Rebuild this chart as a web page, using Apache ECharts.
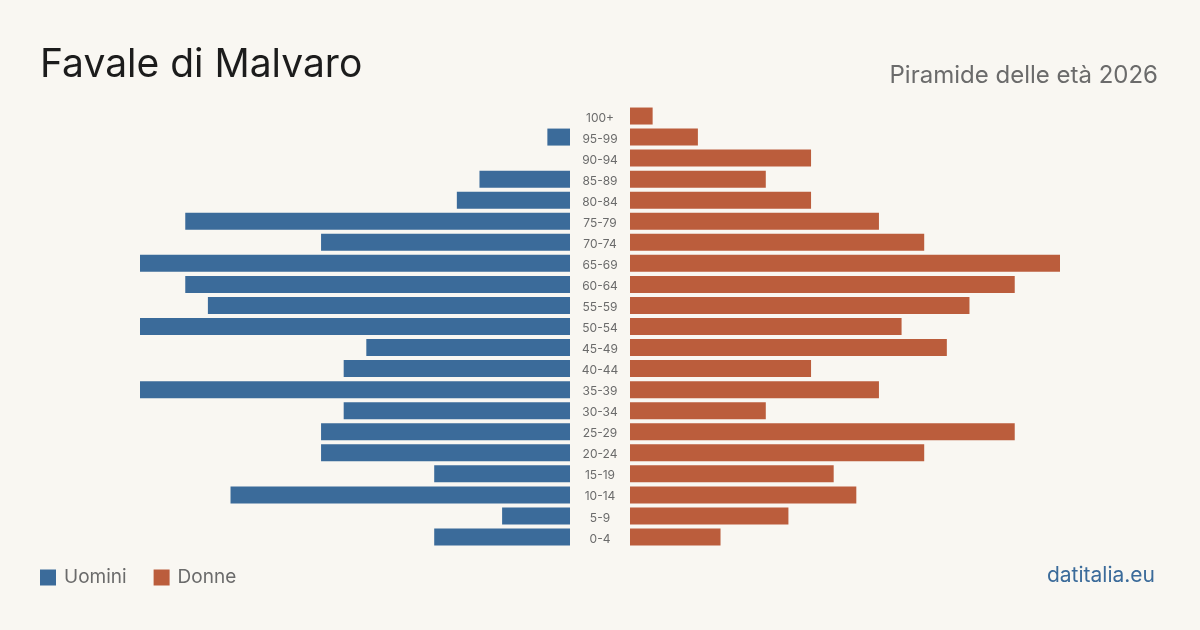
<!DOCTYPE html>
<html>
<head>
<meta charset="utf-8">
<script src="https://cdn.jsdelivr.net/npm/echarts@6/dist/echarts.min.js"></script>
<style>
html,body{margin:0;padding:0;background:#f9f7f2;}
#c{width:1200px;height:630px;}
</style>
</head>
<body>
<div id="c"></div>
<script>
const categories = ['100+','95-99','90-94','85-89','80-84','75-79','70-74','65-69','60-64','55-59','50-54','45-49','40-44','35-39','30-34','25-29','20-24','15-19','10-14','5-9','0-4'];
const uomini = [0,1,0,4,5,17,11,19,17,16,19,9,10,19,10,11,11,6,15,3,6];
const donne  = [1,3,8,6,8,11,13,19,17,15,12,14,8,11,6,17,13,9,10,7,4];
const axisMax = 19;

const FONT = 'Inter, "Noto Sans", sans-serif';
const chart = echarts.init(document.getElementById('c'), null, {renderer:'canvas'});
chart.setOption({
  backgroundColor: '#f9f7f2',
  animation: false,
  title: [
    {text:'Favale di Malvaro', left:40, top:46, padding:0, textStyle:{fontFamily:FONT, fontSize:39, fontWeight:'normal', color:'#1c1c1c'}},
    {text:'Piramide delle età 2026', right:42, top:64, padding:0, textStyle:{fontFamily:FONT, fontSize:24, fontWeight:'normal', color:'#6b6b6b'}},
    {text:'datitalia.eu', right:45, top:565, padding:0, textStyle:{fontFamily:FONT, fontSize:21, fontWeight:'normal', color:'#3b6b9a'}}
  ],
  legend: {
    left: 40, top: 568, padding: 0, itemWidth: 16, itemHeight: 16, itemGap: 27, icon: 'rect',
    textStyle: {fontFamily: FONT, fontSize: 19, color: '#6b6b6b', padding:[0,0,0,3]},
    data: ['Uomini','Donne']
  },
  grid: [
    {left:140, width:430, top:105.5, height:442},
    {left:630, width:430, top:105.5, height:442}
  ],
  xAxis: [
    {gridIndex:0, type:'value', min:0, max:axisMax, inverse:true, show:false},
    {gridIndex:1, type:'value', min:0, max:axisMax, show:false}
  ],
  yAxis: [
    {gridIndex:0, type:'category', data:categories, inverse:true, show:false},
    {gridIndex:1, type:'category', data:categories, inverse:true, position:'left',
     axisLine:{show:false}, axisTick:{show:false},
     axisLabel:{align:'center', verticalAlign:'middle', margin:30,
       formatter: '{a|{value}}',
       rich:{a:{fontFamily:FONT, fontSize:12, color:'#6b6b6b', padding:[4,0,0,0]}}}}
  ],
  series: [
    {name:'Uomini', type:'bar', xAxisIndex:0, yAxisIndex:0, data:uomini, barWidth:17, itemStyle:{color:'#3b6b9a'}},
    {name:'Donne', type:'bar', xAxisIndex:1, yAxisIndex:1, data:donne, barWidth:17, itemStyle:{color:'#bb5d3c'}}
  ]
});
</script>
</body>
</html>
